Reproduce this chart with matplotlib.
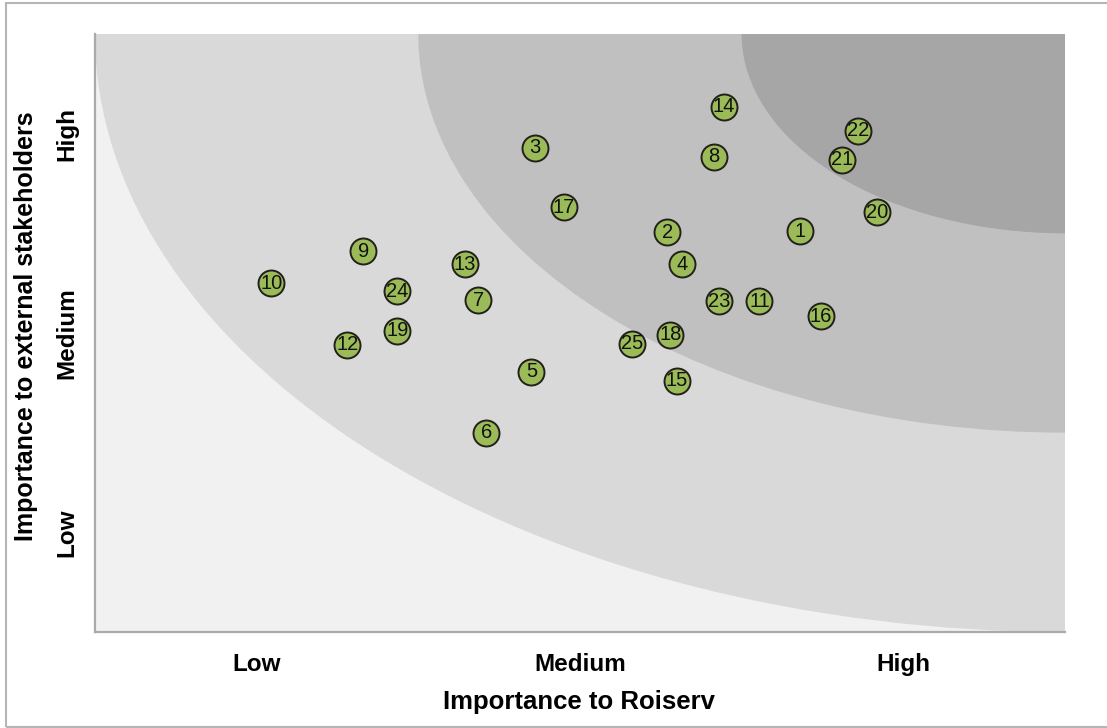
import matplotlib.pyplot as plt
from matplotlib.patches import Ellipse, Rectangle

plt.rcParams['font.family'] = ['Liberation Sans', 'DejaVu Sans']

# issue number, importance to Roiserv (x), importance to external stakeholders (y)
issue_ids = [1, 2, 3, 4, 5, 6, 7, 8, 9, 10, 11, 12, 13,
             14, 15, 16, 17, 18, 19, 20, 21, 22, 23, 24, 25]
roiserv = [4.36, 3.54, 2.72, 3.63, 2.70, 2.42, 2.37, 3.83, 1.66, 1.09, 4.11, 1.56, 2.29,
           3.89, 3.60, 4.49, 2.90, 3.56, 1.87, 4.84, 4.62, 4.72, 3.86, 1.87, 3.32]
stakeholders = [4.02, 4.01, 4.86, 3.69, 2.61, 2.00, 3.33, 4.77, 3.82, 3.50, 3.32, 2.88, 3.69,
                5.27, 2.52, 3.17, 4.26, 2.98, 3.02, 4.21, 4.74, 5.03, 3.32, 3.42, 2.89]

levels = [1, 3, 5]
level_labels = ['Low', 'Medium', 'High']

# priority zones, drawn outermost first
zone_radii = [6, 4, 2]
zone_colors = ['#d9d9d9', '#c0c0c0', '#a6a6a6']

fig = plt.figure(figsize=(11.07, 7.28), dpi=100)
ax = fig.add_axes([0.0858, 0.1319, 0.8762, 0.8214])
ax.set_xlim(0, 6)
ax.set_ylim(0, 6)
ax.set_facecolor('#f1f1f1')

for r, c in zip(zone_radii, zone_colors):
    ax.add_patch(Ellipse((6, 6), 2 * r, 2 * r, facecolor=c, edgecolor='none', zorder=1))

ax.scatter(roiserv, stakeholders, s=350, color='#9bbb59', edgecolors='#231f1c',
           linewidths=1.4, zorder=3)
for i, x, y in zip(issue_ids, roiserv, stakeholders):
    ax.text(x, y, str(i), ha='center', va='center', fontsize=14.5,
            color='#111111', zorder=4)

ax.set_xticks(levels)
ax.set_xticklabels(level_labels, fontsize=17.5, fontweight='bold')
ax.set_yticks(levels)
ax.set_yticklabels(level_labels, fontsize=17.5, fontweight='bold',
                   rotation=90, va='center')
ax.tick_params(axis='x', length=0, pad=15)
ax.tick_params(axis='y', length=0, pad=12)

ax.set_xlabel('Importance to Roiserv', fontsize=18.5, fontweight='bold')
ax.set_ylabel('Importance to external stakeholders', fontsize=18,
              fontweight='bold')
ax.xaxis.set_label_coords(0.4995, -0.097)
ax.yaxis.set_label_coords(-0.059, 0.512)

for side in ['top', 'right']:
    ax.spines[side].set_visible(False)
for side in ['left', 'bottom']:
    ax.spines[side].set_color('#aaaaaa')
    ax.spines[side].set_linewidth(1.6)

# outer frame
fig.patches.append(Rectangle((6 / 1107, 1 / 728), 1, 724 / 728,
                             transform=fig.transFigure, fill=False,
                             edgecolor='#b5b5b5', linewidth=1.5))

fig.savefig('out.png', dpi=100)
